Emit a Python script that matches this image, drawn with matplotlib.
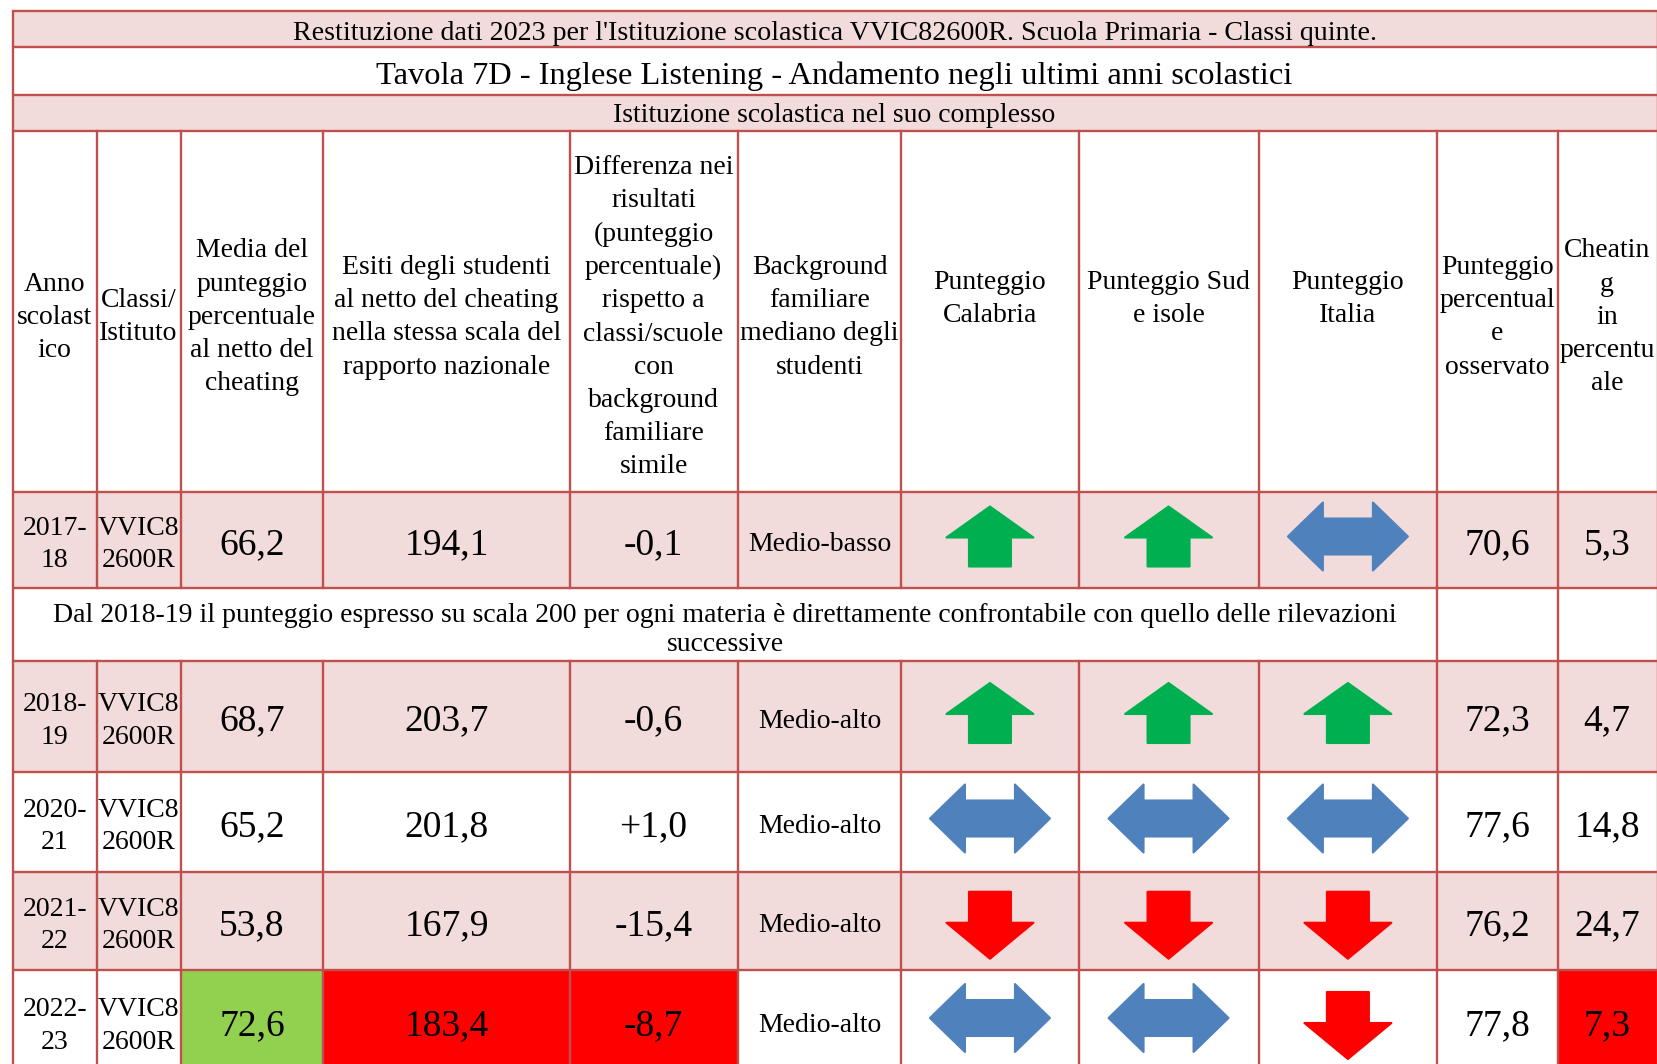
import matplotlib
matplotlib.use("Agg")
import matplotlib.pyplot as plt
from matplotlib.patches import Rectangle, Polygon

plt.rcParams['font.family'] = ['Liberation Serif', 'DejaVu Serif']

W, H = 1657, 1064

# --- data ---
title_top = "Restituzione dati 2023 per l'Istituzione scolastica VVIC82600R. Scuola Primaria - Classi quinte."
title_main = "Tavola 7D - Inglese Listening - Andamento negli ultimi anni scolastici"
title_sub = "Istituzione scolastica nel suo complesso"
note = ("Dal 2018-19 il punteggio espresso su scala 200 per ogni materia è direttamente "
        "confrontabile con quello delle rilevazioni\nsuccessive")

headers = [
    "Anno\nscolast\nico",
    "Classi/\nIstituto",
    "Media del\npunteggio\npercentuale\nal netto del\ncheating",
    "Esiti degli studenti\nal netto del cheating\nnella stessa scala del\nrapporto nazionale",
    "Differenza nei\nrisultati\n(punteggio\npercentuale)\nrispetto a\nclassi/scuole\ncon\nbackground\nfamiliare\nsimile",
    "Background\nfamiliare\nmediano degli\nstudenti",
    "Punteggio\nCalabria",
    "Punteggio Sud\ne isole",
    "Punteggio\nItalia",
    "Punteggio\npercentual\ne\nosservato",
    "Cheatin\ng\nin\npercentu\nale",
]

years = ["2017-\n18", "2018-\n19", "2020-\n21", "2021-\n22", "2022-\n23"]
school = ["VVIC8\n2600R"] * 5
media = [66.2, 68.7, 65.2, 53.8, 72.6]
esiti = [194.1, 203.7, 201.8, 167.9, 183.4]
differenza = [-0.1, -0.6, 1.0, -15.4, -8.7]
background = ["Medio-basso", "Medio-alto", "Medio-alto", "Medio-alto", "Medio-alto"]
trend_calabria = ["up", "up", "eq", "down", "eq"]
trend_sud = ["up", "up", "eq", "down", "eq"]
trend_italia = ["eq", "up", "eq", "down", "down"]
osservato = [70.6, 72.3, 77.6, 76.2, 77.8]
cheating = [5.3, 4.7, 14.8, 24.7, 7.3]

# highlighted cells of the last year (row, column)
highlight = {(4, 2): '#92D050', (4, 3): '#FF0000', (4, 4): '#FF0000', (4, 10): '#FF0000'}

# --- layout ---
col_edges = [12.7, 96.7, 180.5, 323.4, 569.6, 737.6, 901.4, 1078.5, 1258.6, 1437.2, 1557.7, 1656.5]
row_edges = [10.5, 47, 95, 131, 491.5, 587.5, 660.5, 771.5, 871.5, 970, 1072]
data_band = [4, 6, 7, 8, 9]
note_band = 5

PINK = '#F2DCDB'
BORDER = '#C0504D'
colors_arrow = {'up': '#00B050', 'down': '#FF0000', 'eq': '#4F81BD'}


def fmt(v, sign=False):
    s = f"{v:+.1f}" if sign else f"{v:.1f}"
    return s.replace('.', ',')


def arrow_verts(kind, cx, cy):
    if kind == 'up':
        pts = [(0, -30), (43.5, 1), (21, 1), (21, 30), (-21, 30), (-21, 1), (-43.5, 1)]
    elif kind == 'down':
        pts = [(-21, -33), (21, -33), (21, -2), (43.5, -2), (0, 34), (-43.5, -2), (-21, -2)]
    else:
        pts = [(-60, 0), (-25, -34), (-25, -18), (25, -18), (25, -34), (60, 0),
               (25, 34), (25, 18), (-25, 18), (-25, 34)]
    return [(cx + x, cy + y) for x, y in pts]


fig = plt.figure(figsize=(W / 100, H / 100), dpi=100)
ax = fig.add_axes([0, 0, 1, 1])
ax.set_xlim(0, W)
ax.set_ylim(H, 0)
ax.axis('off')

x0, x1 = col_edges[0], col_edges[-1]
xc = [(col_edges[i] + col_edges[i + 1]) / 2 for i in range(len(col_edges) - 1)]
yc = [(row_edges[i] + row_edges[i + 1]) / 2 for i in range(len(row_edges) - 1)]

# backgrounds
for b in (0, 2, 4, 6, 8):
    ax.add_patch(Rectangle((x0, row_edges[b]), x1 - x0, row_edges[b + 1] - row_edges[b],
                           facecolor=PINK, edgecolor='none', zorder=0))
for (r, c), color in highlight.items():
    b = data_band[r]
    ax.add_patch(Rectangle((col_edges[c], row_edges[b]), col_edges[c + 1] - col_edges[c],
                           row_edges[b + 1] - row_edges[b], facecolor=color,
                           edgecolor='none', zorder=0.5))

# grid lines
lw = 1.7
for y in row_edges[:-1]:
    ax.plot([x0, x1], [y, y], color=BORDER, lw=lw, zorder=2, solid_capstyle='butt')
ax.plot([x0, x0], [row_edges[0], H + 5], color=BORDER, lw=lw, zorder=2)
ax.plot([x1, x1], [row_edges[0], H + 5], color=BORDER, lw=1.0, zorder=2)
for i, x in enumerate(col_edges[1:-1], start=1):
    ax.plot([x, x], [row_edges[3], row_edges[note_band]], color=BORDER, lw=lw, zorder=2)
    ax.plot([x, x], [row_edges[note_band + 1], H + 5], color=BORDER, lw=lw, zorder=2)
    if i >= 9:
        ax.plot([x, x], [row_edges[note_band], row_edges[note_band + 1]], color=BORDER, lw=lw, zorder=2)

# titles
mid = (x0 + x1) / 2
ax.text(mid, yc[0] + 4.5, title_top, ha='center', va='center', fontsize=20.2)
ax.text(mid, yc[1] + 5, title_main, ha='center', va='center', fontsize=23.4)
ax.text(mid, yc[2] + 3, title_sub, ha='center', va='center', fontsize=20)

# header
for i, h in enumerate(headers):
    y = yc[3] + 6
    if i in (6, 7, 8):
        y = yc[3] - 12
    ax.text(xc[i], y, h, ha='center', va='center', fontsize=20, linespacing=1.43)

# note row
ax.text((x0 + col_edges[9]) / 2, yc[note_band] + 6, note, ha='center', va='center',
        fontsize=20, linespacing=1.18)

# data rows
for r in range(len(years)):
    y = yc[data_band[r]]
    ax.text(xc[0], y + 5, years[r], ha='center', va='center', fontsize=20, linespacing=1.37)
    ax.text(xc[1], y + 5, school[r], ha='center', va='center', fontsize=20, linespacing=1.37)
    ax.text(xc[2], y + 5, fmt(media[r]), ha='center', va='center', fontsize=27)
    ax.text(xc[3], y + 5, fmt(esiti[r]), ha='center', va='center', fontsize=27)
    ax.text(xc[4], y + 5, fmt(differenza[r], sign=differenza[r] > 0), ha='center', va='center', fontsize=27)
    ax.text(xc[5], y + 5, background[r], ha='center', va='center', fontsize=20)
    for c, trend in zip((6, 7, 8), (trend_calabria, trend_sud, trend_italia)):
        k = trend[r]
        dy = {'up': -3, 'down': 4, 'eq': -3}[k]
        ax.add_patch(Polygon(arrow_verts(k, xc[c], y + dy), closed=True, facecolor=colors_arrow[k],
                             edgecolor=colors_arrow[k], lw=1.5, joinstyle='round', zorder=3))
    ax.text(xc[9], y + 5, fmt(osservato[r]), ha='center', va='center', fontsize=27)
    ax.text(xc[10], y + 5, fmt(cheating[r]), ha='center', va='center', fontsize=27)

fig.savefig('out.png', dpi=100)
